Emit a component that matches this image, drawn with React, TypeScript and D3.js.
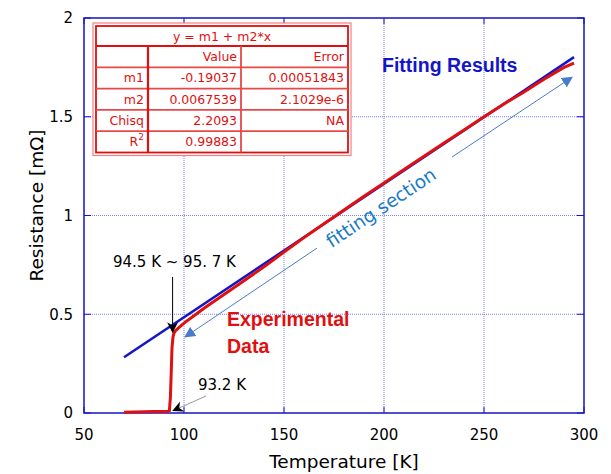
import React from 'react';
import * as d3 from 'd3';

const tempK = [70, 75, 80, 85, 90, 92, 92.7, 93.2, 93.6, 94, 94.5, 95, 95.7, 97, 100, 105, 110, 120, 130, 140, 150, 160, 170, 180, 190, 200, 210, 220, 230, 240, 250, 260, 270, 280, 290, 295];
const resistance = [0.004, 0.005, 0.006, 0.007, 0.008, 0.009, 0.012, 0.08, 0.2, 0.33, 0.385, 0.405, 0.415, 0.428, 0.455, 0.492, 0.53, 0.6, 0.67, 0.74, 0.815, 0.888, 0.958, 1.028, 1.097, 1.165, 1.233, 1.3, 1.367, 1.433, 1.5, 1.565, 1.625, 1.69, 1.75, 1.772];

// linear fit line
const fitT = [70, 295];
const fitRes = [0.282, 1.802];

const xTicks = [50, 100, 150, 200, 250, 300];
const yTicks = [0, 0.5, 1, 1.5, 2];

const tableTitle = 'y = m1 + m2*x';
const tableHead = ['', 'Value', 'Error'];
const tableRows = [
  ['m1', '-0.19037', '0.00051843'],
  ['m2', '0.0067539', '2.1029e-6'],
  ['Chisq', '2.2093', 'NA'],
  ['R2', '0.99883', ''],
];

const W = 611;
const H = 474;
const margin = { top: 18, right: 27, bottom: 61, left: 84 };
const FONT = '"DejaVu Sans", Verdana, sans-serif';
const LABEL_FONT = '"Liberation Sans", Arial, sans-serif';

export default function App() {
  const iw = W - margin.left - margin.right;
  const ih = H - margin.top - margin.bottom;
  const x = d3.scaleLinear().domain([50, 300]).range([0, iw]);
  const y = d3.scaleLinear().domain([0, 2]).range([ih, 0]);

  const dataLine = d3.line<number>()
    .x((d, i) => x(tempK[i]))
    .y(d => y(d));
  const fitLine = d3.line<number>()
    .x((d, i) => x(fitT[i]))
    .y(d => y(d));

  // table geometry (pixels inside plot)
  const tx = 12, ty = 8;
  const colW = [52, 93, 107];
  const tw = colW[0] + colW[1] + colW[2];
  const titleH = 20;
  const rowH = 21.3;
  const th = titleH + rowH * 5;
  const colX = [tx, tx + colW[0], tx + colW[0] + colW[1], tx + tw];

  const blue = '#1414c8';
  const red = '#e01010';
  const arrowBlue = '#4a7acc';

  return (
    <svg width={W} height={H} style={{ position: 'absolute', left: 0, top: 0, background: '#fff' }} fontFamily={FONT}>
      <defs>
        <marker id="headBlue" viewBox="0 0 10 10" refX="9" refY="5" markerWidth="11" markerHeight="11" orient="auto" markerUnits="userSpaceOnUse">
          <path d="M0,0 L10,5 L0,10 z" fill={arrowBlue} />
        </marker>
        <marker id="headBlack" viewBox="0 0 10 10" refX="9" refY="5" markerWidth="11" markerHeight="11" orient="auto" markerUnits="userSpaceOnUse">
          <path d="M0,0 L10,5 L0,10 L3,5 z" fill="#000" />
        </marker>
      </defs>
      <g transform={`translate(${margin.left},${margin.top})`}>
        {/* grid */}
        {xTicks.slice(1, -1).map(t => (
          <line key={'gx' + t} x1={x(t)} x2={x(t)} y1={0} y2={ih} stroke="#7d7dff" strokeWidth={1} strokeDasharray="1,1" />
        ))}
        {yTicks.slice(1, -1).map(t => (
          <line key={'gy' + t} x1={0} x2={iw} y1={y(t)} y2={y(t)} stroke="#7d7dff" strokeWidth={1} strokeDasharray="1,1" />
        ))}
        {/* ticks inward on all sides */}
        {xTicks.map(t => (
          <g key={'tx' + t}>
            <line x1={x(t)} x2={x(t)} y1={ih} y2={ih - 6} stroke={blue} />
            <line x1={x(t)} x2={x(t)} y1={0} y2={6} stroke={blue} />
            <text x={x(t)} y={ih + 27} textAnchor="middle" fontSize={15}>{t}</text>
          </g>
        ))}
        {yTicks.map(t => (
          <g key={'ty' + t}>
            <line x1={0} x2={7} y1={y(t)} y2={y(t)} stroke={blue} />
            <line x1={iw} x2={iw - 7} y1={y(t)} y2={y(t)} stroke={blue} />
            <text x={-11} y={y(t)} dy="0.35em" textAnchor="end" fontSize={15}>{t}</text>
          </g>
        ))}
        <rect x={0} y={0} width={iw} height={ih} fill="none" stroke={blue} strokeWidth={1.5} />

        {/* curves */}
        <path d={fitLine(fitRes) || ''} fill="none" stroke={blue} strokeWidth={2.5} />
        <path d={dataLine(resistance) || ''} fill="none" stroke={red} strokeWidth={3} />

        {/* fitting section arrows */}
        <line x1={x(166.5)} y1={y(0.835)} x2={x(100.5)} y2={y(0.385)} stroke={arrowBlue} strokeWidth={1} markerEnd="url(#headBlue)" />
        <line x1={x(234)} y1={y(1.296)} x2={x(294)} y2={y(1.7)} stroke={arrowBlue} strokeWidth={1} markerEnd="url(#headBlue)" />
        <text x={x(198.5)} y={y(1.04)} fill="#1a7ac8" fontSize={18.5} textAnchor="middle" dominantBaseline="central"
          transform={`rotate(-33.5, ${x(198.5)}, ${y(1.04)})`}>fitting section</text>

        {/* transition annotations */}
        <line x1={x(94.3)} y1={y(0.689)} x2={x(94.3)} y2={y(0.41)} stroke="#000" strokeWidth={1} markerEnd="url(#headBlack)" />
        <text x={x(64.5)} y={y(0.764)} fontSize={15} dominantBaseline="central">94.5 K ~ 95. 7 K</text>
        <line x1={x(111)} y1={y(0.086)} x2={x(94.6)} y2={y(0.012)} stroke="#999" strokeWidth={1} markerEnd="url(#headBlack)" />
        <text x={x(107)} y={y(0.142)} fontSize={15} dominantBaseline="central">93.2 K</text>

        {/* labels */}
        <g fontFamily={LABEL_FONT} fontWeight="bold" fontSize={19.5}>
          <text x={x(199)} y={y(1.76)} fill={blue} dominantBaseline="central">Fitting Results</text>
          <text x={x(121.5)} y={y(0.475)} fill={red} dominantBaseline="central">Experimental</text>
          <text x={x(121.5)} y={y(0.34)} fill={red} dominantBaseline="central">Data</text>
        </g>

        {/* fit results table */}
        <g fontSize={12.5} fill={red}>
          <rect x={tx - 3} y={ty - 3} width={tw + 6} height={th + 6} fill="#fff" stroke="#f08080" strokeWidth={1.2} />
          <rect x={tx} y={ty} width={tw} height={th} fill="#fff" stroke={red} strokeWidth={1.8} />
          <line x1={tx} x2={tx + tw} y1={ty + titleH} y2={ty + titleH} stroke={red} strokeWidth={2} />
          <text x={tx + tw / 2} y={ty + titleH / 2} textAnchor="middle" dominantBaseline="central">{tableTitle}</text>
          {[tableHead, ...tableRows].map((row, r) => {
            const ry = ty + titleH + r * rowH;
            return (
              <g key={'row' + r}>
                {r > 0 && <line x1={tx} x2={tx + tw} y1={ry} y2={ry} stroke="#e84848" strokeWidth={1.8} />}
                {row.map((cell, c) => (
                  <text key={c} x={colX[c + 1] - 4} y={ry + rowH / 2} textAnchor="end" dominantBaseline="central">
                    {cell === 'R2' ? <>R<tspan dy="-5" fontSize={9}>2</tspan></> : cell}
                  </text>
                ))}
              </g>
            );
          })}
          <line x1={colX[1]} x2={colX[1]} y1={ty + titleH} y2={ty + th} stroke={red} strokeWidth={2.2} />
          <line x1={colX[2]} x2={colX[2]} y1={ty + titleH} y2={ty + th} stroke="#e84848" strokeWidth={1.8} />
        </g>
      </g>
      {/* axis titles */}
      <text x={margin.left + iw / 2 + 10} y={H - 6} textAnchor="middle" fontSize={18.5}>Temperature [K]</text>
      <text transform={`translate(${43},${margin.top + ih / 2 - 10}) rotate(-90)`} textAnchor="middle" fontSize={18.5}>Resistance [mΩ]</text>
    </svg>
  );
}
